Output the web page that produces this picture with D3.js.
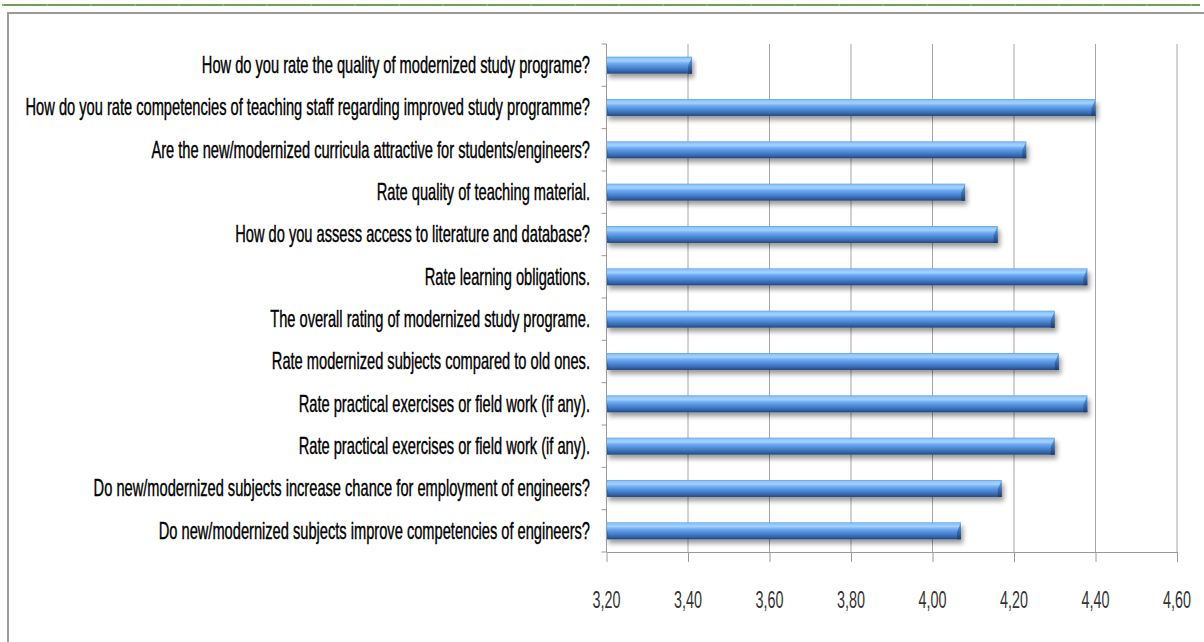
<!DOCTYPE html>
<html>
<head>
<meta charset="utf-8">
<script src="https://cdn.jsdelivr.net/npm/d3@7"></script>
<style>
  html, body { margin: 0; padding: 0; background: #fff; }
  svg { display: block; }
</style>
</head>
<body>
<svg id="chart" width="1204" height="642"></svg>
<script>
// Survey questions, top to bottom
const questions = [
  "How do you rate the quality of modernized study programe?",
  "How do you rate competencies of teaching staff regarding improved study programme?",
  "Are the new/modernized curricula attractive for students/engineers?",
  "Rate quality of teaching material.",
  "How do you assess access to literature and database?",
  "Rate learning obligations.",
  "The overall rating of modernized study programe.",
  "Rate modernized subjects compared to old ones.",
  "Rate practical exercises or field work (if any).",
  "Rate practical exercises or field work (if any).",
  "Do new/modernized subjects increase chance for employment of engineers?",
  "Do new/modernized subjects improve competencies of engineers?"
];
// Mean rating per question
const ratings = [3.41, 4.40, 4.23, 4.08, 4.16, 4.38, 4.30, 4.31, 4.38, 4.30, 4.17, 4.07];
// Axis ticks
const xTicks = [3.2, 3.4, 3.6, 3.8, 4.0, 4.2, 4.4, 4.6];

const svg = d3.select("#chart");
const W = 1204, H = 642;
const m = { left: 606.5, right: 27, top: 44, bottom: 90 };

const x = d3.scaleLinear().domain([3.2, 4.6]).range([m.left, W - m.right]);
const y = d3.scaleBand().domain(d3.range(questions.length))
  .range([m.top, H - m.bottom]).paddingInner(0.6).paddingOuter(0.3);

const defs = svg.append("defs");
const g = defs.append("linearGradient").attr("id", "barFill")
  .attr("x1", 0).attr("y1", 0).attr("x2", 0).attr("y2", 1);
[["0%", "#5d9ce6"], ["8%", "#8cc4fb"], ["24%", "#a2d3ff"], ["40%", "#6eaaf0"],
 ["62%", "#4d8ad8"], ["84%", "#3768ad"], ["100%", "#22467c"]]
  .forEach(([o, c]) => g.append("stop").attr("offset", o).attr("stop-color", c));
const gc = defs.append("linearGradient").attr("id", "capFill")
  .attr("x1", 0).attr("y1", 0).attr("x2", 0).attr("y2", 1);
[["0%", "#6fa8e6"], ["45%", "#3f78c0"], ["100%", "#1d3d6c"]]
  .forEach(([o, c]) => gc.append("stop").attr("offset", o).attr("stop-color", c));
const sh = defs.append("filter").attr("id", "shadow")
  .attr("x", "-5%").attr("y", "-60%").attr("width", "110%").attr("height", "260%");
sh.append("feGaussianBlur").attr("in", "SourceAlpha").attr("stdDeviation", 2.5).attr("result", "b");
sh.append("feOffset").attr("in", "b").attr("dx", 2).attr("dy", 4).attr("result", "o");
sh.append("feComponentTransfer").attr("in", "o").attr("result", "s")
  .append("feFuncA").attr("type", "linear").attr("slope", 0.4);
const mg = sh.append("feMerge");
mg.append("feMergeNode").attr("in", "s");
mg.append("feMergeNode").attr("in", "SourceGraphic");

// Page header rule and frame
svg.append("line").attr("x1", 2).attr("x2", 1200).attr("y1", 5).attr("y2", 5)
  .attr("stroke", "#6e9e54").attr("stroke-width", 2);
svg.append("line").attr("x1", 2).attr("x2", 1200).attr("y1", 5).attr("y2", 5)
  .attr("stroke", "#a9c79a").attr("stroke-width", 1).attr("stroke-dasharray", "2 42");
svg.append("path").attr("d", `M8,${H} V13 H${W}`)
  .attr("fill", "none").attr("stroke", "#9a9a9a").attr("stroke-width", 2);

// Vertical gridlines
svg.append("g").selectAll("line").data(xTicks.slice(1)).join("line")
  .attr("x1", d => x(d)).attr("x2", d => x(d))
  .attr("y1", m.top).attr("y2", H - m.bottom)
  .attr("stroke", "#a6a6a6").attr("stroke-width", 1);

// Bars
const bars = svg.append("g").selectAll("g").data(ratings).join("g")
  .attr("filter", "url(#shadow)");
bars.append("rect")
  .attr("x", x(3.2)).attr("y", (d, i) => y(i))
  .attr("width", d => x(d) - x(3.2)).attr("height", y.bandwidth())
  .attr("fill", "url(#barFill)");
bars.append("path")
  .attr("d", (d, i) => {
    const x1 = x(d), y0 = y(i), h = y.bandwidth();
    return `M${x1},${y0} L${x1 - 4},${y0 + h * 0.55} L${x1 - 4},${y0 + h} L${x1},${y0 + h} Z`;
  })
  .attr("fill", "url(#capFill)");
bars.append("path")
  .attr("d", (d, i) => {
    const x0 = x(3.2), y0 = y(i), h = y.bandwidth();
    return `M${x0},${y0 + h * 0.35} L${x0 + 3},${y0 + h} L${x0},${y0 + h} Z`;
  })
  .attr("fill", "#2c568f").attr("opacity", 0.6);

// Axes
const axisColor = "#9a9a9a";
const yAxis = svg.append("g");
yAxis.append("line").attr("x1", x(3.2)).attr("x2", x(3.2))
  .attr("y1", m.top).attr("y2", H - m.bottom).attr("stroke", axisColor);
const step = y.step();
yAxis.selectAll(".yt").data(d3.range(questions.length + 1)).join("line")
  .attr("x1", x(3.2) - 5).attr("x2", x(3.2))
  .attr("y1", i => m.top + i * step).attr("y2", i => m.top + i * step)
  .attr("stroke", axisColor);

const xAxis = svg.append("g").attr("transform", `translate(0,${H - m.bottom})`)
  .call(d3.axisBottom(x).tickValues(xTicks).tickSizeInner(10).tickSizeOuter(0)
    .tickFormat(d => d3.format(".2f")(d).replace(".", ",")));
xAxis.select(".domain").attr("stroke", axisColor);
xAxis.selectAll(".tick line").attr("stroke", axisColor);
xAxis.selectAll(".tick text").remove();

// Tick labels (condensed face)
const font = "'Liberation Sans Narrow', 'Liberation Sans', sans-serif";
const tl = svg.append("g").selectAll("text").data(xTicks).join("text")
  .attr("font-family", font).attr("font-size", 24).attr("fill", "#333")
  .attr("text-anchor", "middle").attr("dominant-baseline", "central")
  .text(d => d3.format(".2f")(d).replace(".", ","));
const tw = tl.node().getComputedTextLength();
const tsx = 28 / tw;
tl.attr("transform", d => `translate(${x(d)},600) scale(${tsx},1)`);

// Question labels
const ql = svg.append("g").selectAll("text").data(questions).join("text")
  .attr("font-family", font).attr("font-size", 23).attr("fill", "#000")
  .attr("stroke", "#000").attr("stroke-width", 0.4)
  .attr("text-anchor", "end").attr("dominant-baseline", "central")
  .text(d => d);
const maxW = d3.max(ql.nodes(), n => n.getComputedTextLength());
const qsx = 565 / maxW;
ql.attr("transform", (d, i) => `translate(590,${y(i) + y.bandwidth() / 2}) scale(${qsx},1)`);
</script>
</body>
</html>
